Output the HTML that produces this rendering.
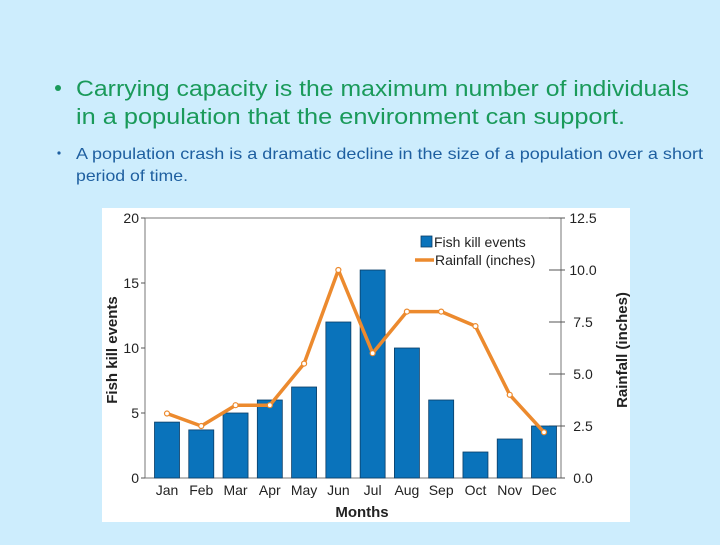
<!DOCTYPE html>
<html><head><meta charset="utf-8"><style>
body{margin:0;width:720px;height:540px;overflow:hidden;background:#cdedfd;font-family:"Liberation Sans",sans-serif}
</style></head><body>
<svg id="s" width="720" height="540" xmlns="http://www.w3.org/2000/svg">
<rect width="720" height="540" fill="#cdedfd"/>
<g fill="#1a9a5a" font-size="22">
<circle cx="58" cy="88" r="3" fill="#1a9a5a"/>
<text x="76" y="96" textLength="613" lengthAdjust="spacingAndGlyphs">Carrying capacity is the maximum number of individuals</text>
<text x="76" y="124" textLength="549" lengthAdjust="spacingAndGlyphs">in a population that the environment can support.</text>
</g>
<g fill="#1e5fa0" font-size="16">
<circle cx="59" cy="153" r="1.6" fill="#1e5fa0"/>
<text x="76" y="159" textLength="627" lengthAdjust="spacingAndGlyphs">A population crash is a dramatic decline in the size of a population over a short</text>
<text x="76" y="181" textLength="112" lengthAdjust="spacingAndGlyphs">period of time.</text>
</g>
<rect x="102" y="208" width="528" height="314" fill="#fff"/>
<g id="chart"></g>
</svg>
<script>
const months=["Jan","Feb","Mar","Apr","May","Jun","Jul","Aug","Sep","Oct","Nov","Dec"];
const fishKills=[4.3,3.7,5,6,7,12,16,10,6,2,3,4];
const rainfall=[3.1,2.5,3.5,3.5,5.5,10,6,8,8,7.3,4,2.2];
const leftTicks=[0,5,10,15,20];
const rightTicks=[0,2.5,5,7.5,10,12.5];
const NS="http://www.w3.org/2000/svg";
const g=document.getElementById('chart');
const L=145,R=561,T=218,B=478;
const yL=v=>B-(v/20)*(B-T);
const yR=v=>B-(v/12.5)*(B-T);
const step=(544-167)/11;
const xC=i=>167+i*step;
function mk(t,a,p){const e=document.createElementNS(NS,t);for(const k in a)e.setAttribute(k,a[k]);(p||g).appendChild(e);return e;}
// axes frame
let e=mk('path',{d:`M${L},${T}H${R}V${B}H${L}Z`,fill:'none',stroke:'#777','stroke-width':1});


leftTicks.forEach(v=>{
 let t=mk('line',{x1:L-4,x2:L,y1:yL(v),y2:yL(v),stroke:'#555'});
 
 
 let tx=mk('text',{x:L-6,y:yL(v)+5,'text-anchor':'end','font-size':14,fill:'#222'});
 tx.textContent=v;
 
 
});
rightTicks.forEach(v=>{
 let t=mk('line',{x1:R-12,x2:R+4,y1:yR(v),y2:yR(v),stroke:'#555'});
 
 
 let tx=mk('text',{x:R+22,y:yR(v)+5,'text-anchor':'middle','font-size':14,fill:'#222'});
 tx.textContent=v.toFixed(1);
 
 
});
fishKills.forEach((v,i)=>{
 let b=mk('rect',{x:xC(i)-12.5,y:yL(v),width:25,height:B-yL(v),fill:'#0a73bb',stroke:'#0b3d66','stroke-width':0.8});
 
 
 let tx=mk('text',{x:xC(i),y:495,'text-anchor':'middle','font-size':14,fill:'#222'});
 tx.textContent=months[i];
 
 
});
let pts=rainfall.map((v,i)=>xC(i)+','+yR(v)).join(' ');
let pl=mk('polyline',{points:pts,fill:'none',stroke:'#ec8a2e','stroke-width':3.5,'stroke-linejoin':'round'});


rainfall.forEach((v,i)=>{
 let c=mk('circle',{cx:xC(i),cy:yR(v),r:2.5,fill:'#fff',stroke:'#ec8a2e','stroke-width':1.2});
 
 
});
// legend
let lr=mk('rect',{x:421,y:236,width:11,height:11,fill:'#0a73bb',stroke:'#0b3d66','stroke-width':0.8});


let lt=mk('text',{x:434,y:247,'font-size':14,fill:'#222'});lt.textContent='Fish kill events';


let ll=mk('line',{x1:415,x2:434,y1:260,y2:260,stroke:'#ec8a2e','stroke-width':3.5});


let lt2=mk('text',{x:435,y:265,'font-size':14,fill:'#222'});lt2.textContent='Rainfall (inches)';


let xt=mk('text',{x:362,y:517,'text-anchor':'middle','font-size':15,'font-weight':'bold',fill:'#222'});xt.textContent='Months';


let yt=mk('text',{transform:'translate(117,350) rotate(-90)','text-anchor':'middle','font-size':15,'font-weight':'bold',fill:'#222'});yt.textContent='Fish kill events';


let yt2=mk('text',{transform:'translate(627,350) rotate(-90)','text-anchor':'middle','font-size':15,'font-weight':'bold',fill:'#222'});yt2.textContent='Rainfall (inches)';


</script>
</body></html>
